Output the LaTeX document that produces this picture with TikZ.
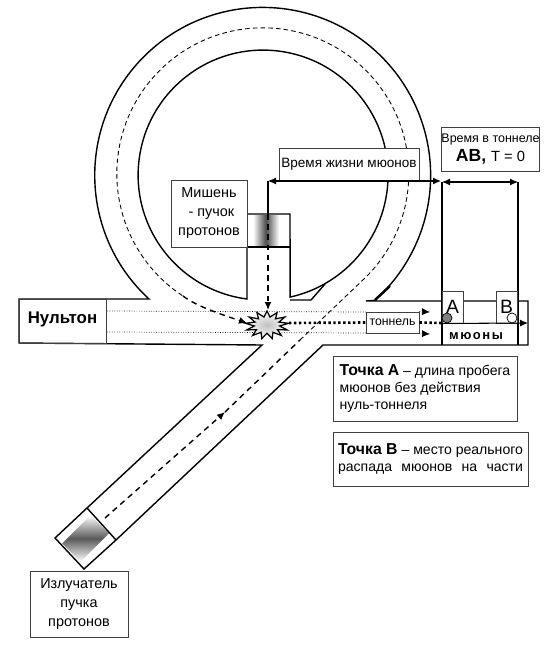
\documentclass[tikz,border=0pt]{standalone}
\usepackage{fontspec}
\setmainfont{Liberation Sans}
\usetikzlibrary{arrows.meta,shapes.geometric}
\tikzset{
  wall/.style={line width=0.8pt},
  thinwall/.style={line width=0.6pt},
  lblbox/.style={draw=black!75,line width=0.55pt,inner sep=0pt,align=center,font=\fontsize{7.7}{9.8}\selectfont},
  orbit/.style={line width=0.5pt,dash pattern=on 2.6pt off 1.8pt},
  beam/.style={line width=0.8pt,dash pattern=on 3.2pt off 2.6pt},
  dots/.style={line width=1.5pt,dash pattern=on 1.4pt off 1.4pt},
  guide/.style={line width=0.4pt,densely dotted},
  tip/.style={-{Latex[length=1.6mm,width=1.4mm]}},
  twotip/.style={{Latex[length=1.6mm,width=1.4mm]}-{Latex[length=1.6mm,width=1.4mm]}}
}
\begin{document}
\begin{tikzpicture}[x=0.02cm,y=-0.02cm]
\useasboundingbox (0,0) rectangle (550,649);
% shaded ends
\shade[left color=white,right color=white,middle color=black!70] (253,215) rectangle (279,246);
\begin{scope}[shift={(85.5,538.5)},rotate=45]
\shade[top color=white,bottom color=white,middle color=black!65] (-20,-13) rectangle (20,13);
\end{scope}
% ring
\draw[wall] (19,299) -- (149,299) arc[start angle=227.4,end angle=-48.1,radius=3.36cm] -- (366,301) -- (528,301)
            -- (528,345) -- (323,345) -- (116,540) -- (84,569) -- (55,538) -- (87,508) -- (262,345) -- (19,343) -- cycle;
\draw[wall] (247,214) -- (247,299) arc[start angle=262.6,end angle=-77.5,radius=2.5cm] -- (290,214) -- cycle;
\draw[wall] (290,300) -- (311,300) -- (325,284);
\draw[line width=1.4pt] (375,300) -- (390,286);
\draw[wall] (247,247) -- (290,247);
\draw[wall] (87,508) -- (116,540);
% beam
\coordinate (beamS) at (105,518);
\coordinate (beamM) at (225,412);
\coordinate (beamC) at (300,340);
\coordinate (beamT) at (366,277);
\coordinate (beamE) at (247,323);
\draw[beam,tip] (beamS) -- (beamM);
\draw[beam] (beamM) -- (beamC);
\draw[orbit] (beamC) -- (beamT) arc[start angle=-45,end angle=237,radius=2.92cm];
\draw[beam,tip] (183,296) .. controls (196,306) and (220,314) .. (beamE);
% labels
\node[lblbox,minimum width=1.74cm,minimum height=0.88cm,font=\fontsize{9.6}{11}\selectfont\bfseries] (nulton) at (62.5,321) {\raisebox{4pt}{Нультон}};
\node[lblbox,minimum width=1.52cm,minimum height=1.34cm,fill=white,font=\fontsize{8.2}{9.8}\selectfont] (mishen) at (209,213.5) {Мишень\\[1pt]\,\,- пучок\\[1pt]протонов};
\node[lblbox,minimum width=2.8cm,minimum height=0.66cm,fill=white] (lifebox) at (349,164.5) {Время жизни мюонов};
\node[lblbox,minimum width=1.94cm,minimum height=0.88cm,fill=white,font=\fontsize{7.1}{9.8}\selectfont] (tunbox) at (490.5,149) {Время в тоннеле\\[1pt]{\fontsize{10}{11}\selectfont\textbf{AB,} \fontsize{8.4}{11}\selectfont T = 0}};
\node[lblbox,minimum width=3.68cm,minimum height=1.3cm,fill=white,align=left,font=\fontsize{8}{9.8}\selectfont] (ptA) at (425,388.5)
  {\textbf{\fontsize{9}{10}\selectfont Точка А} -- длина пробега\\мюонов без действия\\нуль-тоннеля};
\node[lblbox,minimum width=3.9cm,minimum height=1.08cm,fill=white,align=left,font=\fontsize{8}{10}\selectfont] (ptB) at (430.5,459)
  {\textbf{\fontsize{9}{10}\selectfont Точка В} -- место реального\\\makebox[3.7cm][s]{распада мюонов на части}};
\node[lblbox,minimum width=1.96cm,minimum height=1.32cm,fill=white,font=\fontsize{8.2}{9.8}\selectfont] (emit) at (79,604) {Излучатель\\[1pt]пучка\\[1pt]протонов};
% tunnel
\coordinate (upS) at (107,311);
\coordinate (lowS) at (107,332);
\coordinate (upE) at (430,312);
\coordinate (lowE) at (430,334);
\draw[guide] (upS) -- (366,312);
\draw[guide] (lowS) -- (366,333);
\node[lblbox,minimum width=1.06cm,minimum height=0.42cm,fill=white,font=\fontsize{7}{8}\selectfont] (tonnel) at (392.5,322.5) {тоннель};
\draw[guide,tip] (tonnel.north east) -- (upE);
\draw[guide,tip] (tonnel.south east) -- (lowE);
\node[star,star points=13,star point ratio=1.7,draw,line width=0.7pt,inner color=black!25,outer color=white,
  minimum size=0.56cm,inner sep=0pt,xscale=1.55,transform shape] (flash) at (267,325) {};
\draw[dots] (flash) ++(22,-2) -- (tonnel.west);
\draw[dots] (tonnel.east) -- (443,323);
% target beam
\coordinate (lifeL) at (268,181);
\coordinate (lifeR) at (441,181);
\coordinate (tunL) at (442,182);
\coordinate (tunR) at (518,182);
\draw[thinwall] (lifeL) -- (268,214);
\draw[beam,tip] (268,214) -- (268,310);
\draw[thinwall,twotip] (lifeL) -- (lifeR);
\draw[thinwall,twotip] (tunL) -- (tunR);
\draw[thinwall] (tunL) -- (442,345);
\draw[thinwall] (tunR) -- (518,345);
% points
\node[lblbox,fill=white,minimum width=0.42cm,minimum height=0.64cm,font=\fontsize{11}{11}\selectfont] (ptAbox) at (452.5,307) {A};
\node[lblbox,fill=white,minimum width=0.42cm,minimum height=0.64cm,font=\fontsize{11}{11}\selectfont] (ptBbox) at (506.5,307) {B};
\node[circle,draw,fill=black!50,inner sep=0pt,minimum size=0.2cm] (muA) at (447,318) {};
\node[circle,draw,fill=white,inner sep=0pt,minimum size=0.2cm] (muB) at (512,318) {};
\draw[thinwall,tip] (ptAbox.south west) -- (528,323);
\node[font=\fontsize{7.4}{9}\selectfont\bfseries\addfontfeature{LetterSpace=12},inner sep=0pt] (muons) at (476,336) {мюоны};
\end{tikzpicture}
\end{document}
